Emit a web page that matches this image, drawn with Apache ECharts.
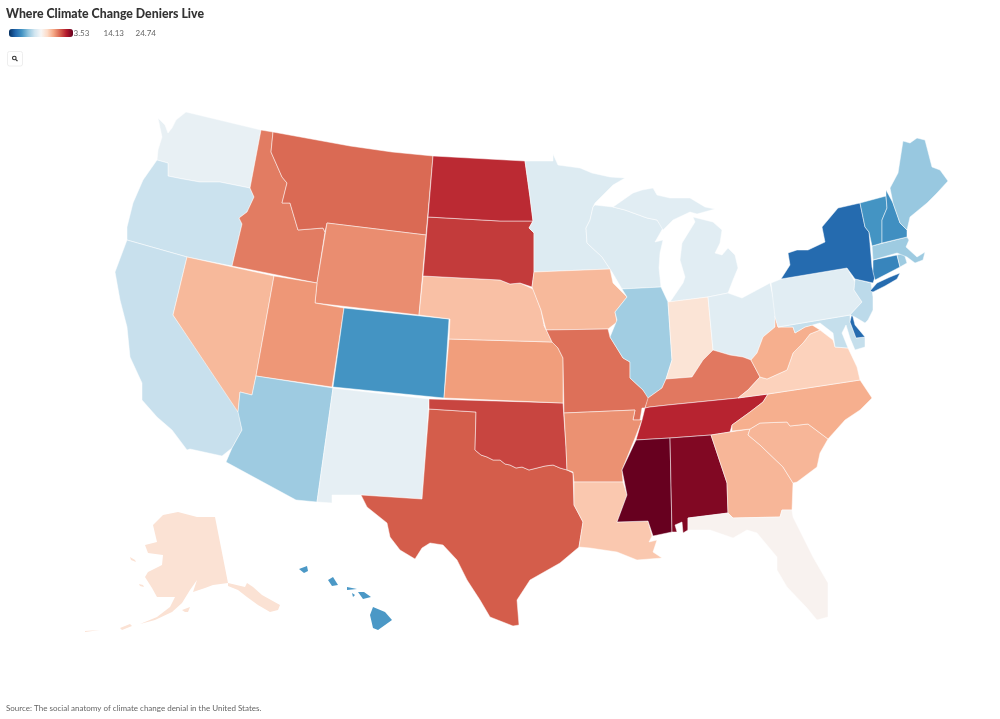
<!DOCTYPE html>
<html><head><meta charset="utf-8">
<script src="https://cdn.jsdelivr.net/npm/echarts@6/dist/echarts.min.js"></script>
<style>html,body{margin:0;padding:0;background:#fff}#c{width:1000px;height:719px}</style></head>
<body><div id="c"></div>
<script>
const titleText = "Where Climate Change Deniers Live";
const sourceText = "Source: The social anatomy of climate change denial in the United States.";
const tickLabels = ["3.53", "14.13", "24.74"];
const scaleColors = ["#053061","#2166ac","#4393c3","#92c5de","#d1e5f0","#f7f7f7","#fddbc7","#f4a582","#d6604d","#b2182b","#67001f"];
const stateNames = ["Alabama","Alaska","Arizona","Arkansas","California","Colorado","Connecticut","Delaware","Florida","Georgia","Hawaii","Idaho","Illinois","Indiana","Iowa","Kansas","Kentucky","Louisiana","Maine","Maryland","Massachusetts","Michigan","Minnesota","Mississippi","Missouri","Montana","Nebraska","Nevada","New Hampshire","New Jersey","New Mexico","New York","North Carolina","North Dakota","Ohio","Oklahoma","Oregon","Pennsylvania","Rhode Island","South Carolina","South Dakota","Tennessee","Texas","Utah","Vermont","Virginia","Washington","West Virginia","Wisconsin","Wyoming"];
const stateValues = [24.0,15.7,10.3,19.0,11.7,7.8,7.1,5.9,14.5,17.7,8.0,19.65,10.4,15.6,17.6,18.6,19.75,17.0,10.1,11.6,10.3,12.9,12.7,24.74,20.0,20.2,17.3,17.6,7.6,11.3,13.2,5.9,18.0,22.1,12.9,21.3,11.8,12.9,10.3,17.7,21.6,22.3,20.6,18.8,7.8,16.6,13.3,18.0,12.7,19.1];
// State outlines (screen-style x,y pairs; a state may have several rings)
const stateOutlines = {
"Washington":["158,118 165,125 168,133 172,128 176,120 186,112 261,130 250,188 220,182 200,182 183,179 168,176 168,163 157,160 158,150 162,137"],
"Oregon":["157,160 168,163 168,176 183,179 200,182 220,182 250,188 254,197 247,212 239,218 242,224 232,266 187,257 127,240 127,227 133,203 143,180"],
"California":["127,240 187,257 173,315 238,408 242,430 232,448 222,456 190,449 187,450 172,430 157,417 142,400 142,383 130,357 127,327 120,300 115,272"],
"Nevada":["187,257 274,276 256,376 252,395 240,392 238,412 173,315"],
"Idaho":["261,130 273,132 271,152 282,177 287,183 282,203 290,203 298,230 323,228 325,232 317,283 232,266 242,224 239,218 247,212 254,197 250,188"],
"Montana":["273,132 350,146 392,152 433,156 426,235 327,223 325,232 323,228 298,230 290,203 282,203 287,183 282,177 271,152"],
"Wyoming":["327,223 426,235 419,315 315,303 317,283"],
"Utah":["274,276 317,283 315,303 344,308 332,387 256,376"],
"Colorado":["344,308 449,319 444,398 333,387"],
"Arizona":["256,376 333,388 317,502 296,500 226,462 232,448 242,430 238,412 240,392 252,395"],
"New Mexico":["333,388 429,399 427,430 422,499 361,495 332,495 332,503 317,502"],
"Texas":["429,409 476,412 475,450 481,455 487,457 493,460 500,460 505,464 510,465 516,468 522,467 529,470 537,468 545,466 553,465 560,468 567,470 573,473 574,505 583,522 579,547 560,563 530,580 517,600 519,625 513,626 490,617 480,600 467,580 457,560 443,545 430,543 422,548 415,559 400,550 390,537 387,523 367,507 361,495 422,499"],
"Oklahoma":["429,399 563,403 566,447 567,470 560,468 553,465 545,466 537,468 529,470 522,467 516,468 510,465 505,464 500,460 493,460 487,457 481,455 475,450 476,412 429,409"],
"Kansas":["449,339 552,342 558,348 563,358 563,403 444,398"],
"Nebraska":["423,276 500,280 510,284 520,283 533,289 541,310 544,325 552,342 449,339 450,319 419,315"],
"South Dakota":["428,217 500,221 533,221 529,228 534,233 534,272 532,287 520,283 510,284 500,280 423,276"],
"North Dakota":["433,156 525,161 530,197 533,221 500,221 428,217"],
"Minnesota":["525,161 553,161 553,154 558,165 580,168 592,173 610,177 625,178 613,185 595,203 593,207 590,220 586,228 587,243 602,257 610,269 534,272 534,233 529,228 533,221 530,197"],
"Wisconsin":["593,207 595,205 613,207 625,210 647,218 657,220 663,228 655,242 663,240 660,253 659,268 661,287 622,289 612,272 610,269 602,257 587,243 586,228 590,220"],
"Michigan":["613,207 633,193 642,190 653,188 657,195 670,198 690,198 705,207 715,209 697,214 690,212 673,220 663,230 657,220 647,218 625,210","693,217 713,222 722,230 720,243 715,253 722,255 728,248 735,255 738,268 733,280 728,293 708,297 670,302 683,283 685,277 680,260 682,243 695,222"],
"Iowa":["534,272 610,269 613,283 627,297 615,312 617,322 608,329 546,330 541,310 532,287"],
"Missouri":["546,330 608,329 610,337 623,358 630,362 630,378 643,390 649,398 645,408 642,408 640,420 633,420 635,410 564,413 563,358 558,348 552,342 544,325"],
"Arkansas":["564,413 635,410 633,420 642,420 635,438 622,470 623,482 574,482 573,472 567,470 566,447"],
"Louisiana":["574,482 623,482 627,495 617,522 648,521 652,536 649,542 657,540 653,552 662,558 637,560 617,552 590,548 579,547 583,522 574,505"],
"Illinois":["622,289 661,287 668,302 672,360 666,379 662,388 648,398 643,390 630,378 630,362 623,358 610,337 617,320 615,312 627,297"],
"Indiana":["668,302 708,297 713,350 703,360 692,377 666,379 672,360"],
"Ohio":["708,297 728,293 742,298 770,283 776,310 775,327 763,337 757,353 751,360 743,357 730,355 713,350"],
"Kentucky":["648,398 662,388 666,379 692,377 703,360 713,350 730,355 743,357 751,360 760,377 748,390 738,398 668,405 650,407 645,408"],
"Tennessee":["650,407 668,405 738,398 768,394 763,402 750,412 732,425 730,432 711,435 670,438 636,440 642,420 645,408"],
"Mississippi":["636,440 670,438 672,532 653,536 648,521 617,522 627,495 622,470"],
"Alabama":["670,438 711,435 727,483 728,513 688,518 688,530 683,533 682,522 675,525 677,532 672,532"],
"Georgia":["711,435 730,432 750,429 748,435 760,445 783,467 793,483 792,510 782,510 780,517 733,518 728,513 727,483"],
"Florida":["688,518 728,513 733,518 780,517 782,510 792,510 793,517 813,557 828,583 828,617 817,620 807,608 787,587 777,570 777,557 757,533 747,530 733,538 710,530 688,530"],
"South Carolina":["750,429 760,423 787,422 790,426 808,424 828,439 820,453 817,467 797,482 793,483 783,467 760,445 748,435"],
"North Carolina":["768,394 860,380 872,398 860,410 845,420 828,439 808,424 790,426 787,422 760,423 750,429 732,431 732,425 750,412 763,402"],
"Virginia":["738,398 748,390 760,377 767,379 787,370 793,353 803,343 810,334 820,330 833,340 835,347 848,348 857,367 860,380 768,394"],
"West Virginia":["775,316 778,327 793,327 795,333 805,327 812,325 820,330 810,334 803,343 793,353 787,370 767,379 760,377 751,360 757,353 763,337 775,327"],
"Maryland":["778,327 850,315 850,322 856,338 865,337 865,347 855,350 850,338 846,325 842,333 848,348 835,347 833,333 820,323 805,327 795,333 793,327"],
"Delaware":["852,313 855,325 865,337 856,338 850,322"],
"Pennsylvania":["771,283 781,279 847,268 855,282 854,290 862,302 850,315 778,327 775,317"],
"New Jersey":["855,279 871,283 873,297 873,310 868,320 865,323 855,317 850,315 862,302 854,290"],
"New York":["781,279 790,265 788,253 797,250 808,250 825,242 822,227 838,208 860,203 865,227 869,232 872,267 875,277 873,283 855,279 847,268","870,291 877,283 890,277 900,273 897,279 885,286 873,292"],
"Connecticut":["873,260 897,255 900,267 875,280 873,272"],
"Rhode Island":["897,255 904,253 907,263 900,267"],
"Massachusetts":["872,246 907,237 909,240 906,247 917,257 925,252 923,260 915,263 907,257 897,253 873,260"],
"Vermont":["860,203 886,196 887,208 882,220 882,243 872,246 869,232 865,227"],
"New Hampshire":["886,190 893,203 900,223 907,230 907,237 882,243 882,220 887,208 886,196"],
"Maine":["903,141 910,143 917,138 925,140 932,167 940,170 948,181 937,193 927,203 910,217 907,230 900,223 893,203 890,188 898,173"],
"Alaska":["178,512 163,515 153,525 157,542 145,545 148,553 163,555 162,565 148,572 145,577 152,588 157,597 175,597 170,607 157,617 140,624 155,620 172,612 182,603 190,590 197,580 193,592 205,588 213,585 228,583 245,587 247,583 253,587 262,595 280,605 278,610 270,612 258,605 247,597 238,590 228,586 228,583 215,517 197,517","182,610 190,607 188,612 185,612","130,557 135,560 136,562 131,560","139,584 143,585 144,587 140,586","120,628 130,624 132,626 122,630","85,631 100,630 100,631 85,632"],
"Hawaii":["373,607 385,612 392,620 378,630 373,628 370,615","358,592 364,592 371,597 363,599","347,587 357,589 347,590","328,580 333,577 338,585 332,586","299,569 307,566 308,571 304,573","352,593 355,595 353,597"]
};
const noBorder = ["Alaska", "Hawaii"];
const features = Object.keys(stateOutlines).map(name => ({
  type: "Feature", properties: { name },
  geometry: { type: "MultiPolygon", coordinates: stateOutlines[name].map(r => {
    const ring = r.split(" ").map(p => { const [x, y] = p.split(",").map(Number); return [x, 719 - y]; });
    ring.push(ring[0]);
    return [ring];
  }) }
}));
echarts.registerMap("us", { type: "FeatureCollection", features });
const chart = echarts.init(document.getElementById("c"), null, { renderer: "canvas" });
const font = 'Lato, "Noto Sans", sans-serif';
chart.setOption({
  animation: false, backgroundColor: "#fff",
  title: { text: titleText, left: 6, top: 8, padding: 0, textStyle: { fontFamily: font, fontSize: 12.3, fontWeight: 900, color: "#333" } },
  visualMap: { type: "continuous", min: 3.53, max: 24.74, left: -6, top: 14, orient: "horizontal", itemWidth: 8, itemHeight: 64, showLabel: false, text: null, calculable: false, inRange: { color: scaleColors }, seriesIndex: 0, hoverLink: false },
  series: [{ type: "map", map: "us", aspectScale: 1, boundingCoords: [[0, 719], [1000, 0]], left: 0, top: 0, width: 1000, height: 719, roam: false, silent: true, label: { show: false },
    itemStyle: { borderColor: "rgba(255,255,255,0.7)", borderWidth: 0.7 },
    data: stateNames.map((name, i) => {
      const d = { name, value: stateValues[i] };
      if (noBorder.includes(name)) d.itemStyle = { borderWidth: 0 };
      return d;
    }) }],
  graphic: [
    ...tickLabels.map((t, i) => ({ type: "text", left: [73.5, 103.5, 135.5][i], top: 29, style: { text: t, fontFamily: font, fontSize: 8, fill: "#666" } })),
    { type: "rect", shape: { x: 7.5, y: 51.5, width: 15, height: 14.5, r: 2 }, style: { fill: "#fff", stroke: "#eee" } },
    { type: "circle", shape: { cx: 14.3, cy: 58, r: 1.8 }, style: { fill: "none", stroke: "#333", lineWidth: 1.1 } },
    { type: "line", shape: { x1: 15.6, y1: 59.3, x2: 17.5, y2: 61.2 }, style: { stroke: "#333", lineWidth: 1.2 } },
    { type: "text", left: 6, top: 704, style: { text: sourceText, fontFamily: font, fontSize: 8, fill: "#666" } }
  ]
});
</script></body></html>
